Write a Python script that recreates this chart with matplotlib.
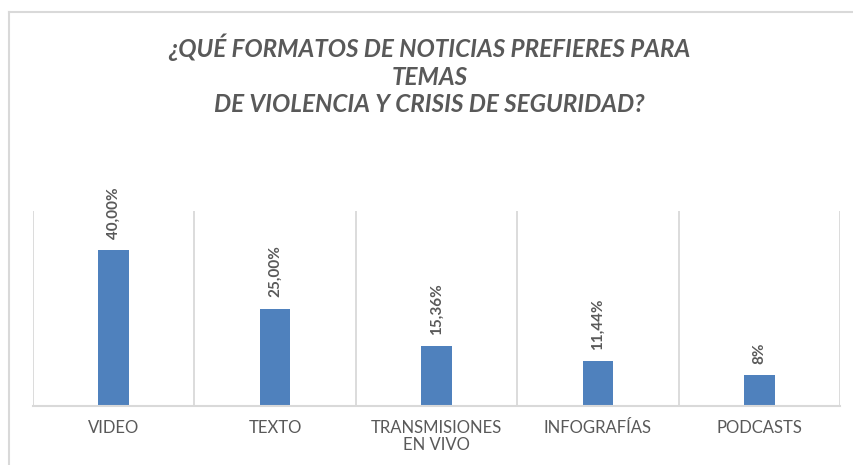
import matplotlib
matplotlib.use('Agg')
import matplotlib.pyplot as plt
from matplotlib.lines import Line2D
import numpy as np

categories = ['VIDEO', 'TEXTO', 'TRANSMISIONES\nEN VIVO', 'INFOGRAFÍAS', 'PODCASTS']
values = [40.00, 25.00, 15.36, 11.44, 8]
value_labels = ['40,00%', '25,00%', '15,36%', '11,44%', '8%']
title = '¿QUÉ FORMATOS DE NOTICIAS PREFIERES PARA\nTEMAS\nDE VIOLENCIA Y CRISIS DE SEGURIDAD?'

plt.rcParams['font.family'] = ['Lato', 'DejaVu Sans']
grey = '#595959'
grid_grey = '#d9d9d9'

fig = plt.figure(figsize=[8.54, 4.65], dpi=100)
ax = fig.add_axes([33 / 854, 1 - 406 / 465, (840 - 33) / 854, (406 - 211) / 465])

x = np.arange(len(categories))
bars = ax.bar(x, values, width=0.19, color='#4f81bd')

ax.set_xlim(-0.5, len(categories) - 0.5)
ax.set_ylim(0, 50)

# category separators
ax.set_xticks(x)
ax.set_xticks(np.arange(-0.5, len(categories)), minor=True)
ax.grid(which='minor', axis='x', color=grid_grey, linewidth=1.3)
ax.tick_params(which='both', length=0)
ax.set_xticklabels(categories, fontsize=12, color=grey, linespacing=1.05)
ax.tick_params(axis='x', pad=10)
ax.set_yticks([])
for s in ['top', 'left', 'right']:
    ax.spines[s].set_visible(False)
ax.spines['bottom'].set_color(grid_grey)
ax.spines['bottom'].set_linewidth(1.5)
ax.set_axisbelow(True)

for b, lab in zip(bars, value_labels):
    ax.annotate(lab, (b.get_x() + b.get_width() / 2, b.get_height()),
                xytext=(0, 8), textcoords='offset points', rotation=90,
                ha='center', va='bottom', fontsize=11, fontweight='bold', color=grey)

fig.text(0.503, 1 - 75 / 465, title, ha='center', va='center', fontsize=17.5,
         fontstyle='italic', fontweight='bold', color=grey, linespacing=1.25)

# chart border
fig.add_artist(Line2D([9 / 854, 9 / 854], [0, 1 - 12 / 465], color=grid_grey, linewidth=1.5))
fig.add_artist(Line2D([9 / 854, 1], [1 - 12 / 465, 1 - 12 / 465], color=grid_grey, linewidth=1.5))

plt.savefig('out.png', dpi=100)
